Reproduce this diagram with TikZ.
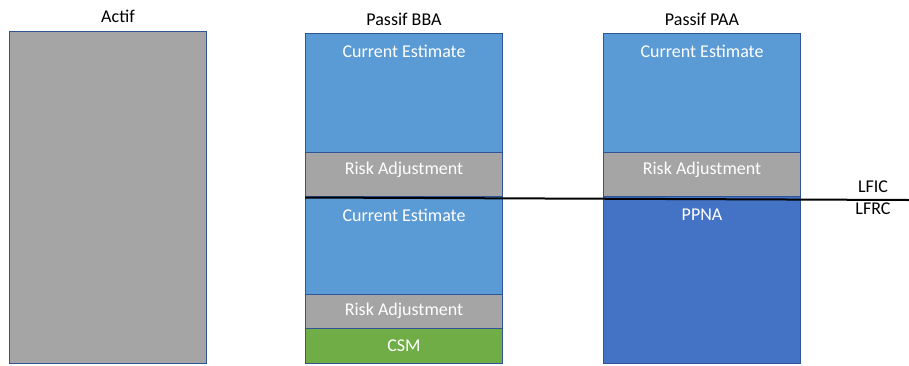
\documentclass[tikz,border=0pt]{standalone}
\usepackage{fontspec}
\setmainfont{Carlito}
\definecolor{ceblue}{HTML}{5B9BD5}
\definecolor{ragray}{HTML}{A5A5A5}
\definecolor{csmgreen}{HTML}{70AD47}
\definecolor{ppnablue}{HTML}{4472C4}
\definecolor{edge}{HTML}{2F5597}
\begin{document}
\begin{tikzpicture}[x=1pt,y=-1pt,
  seg/.style={draw=edge,line width=1pt},
  wlab/.style={text=white,font=\fontsize{18}{21}\selectfont,inner sep=0pt},
  blab/.style={text=black,font=\fontsize{18}{21}\selectfont,inner sep=0pt}]
\useasboundingbox (0,0) rectangle (909,365);
% Actif
\fill[ragray,draw=edge,line width=1pt] (9,31) rectangle (206,363);
\node[blab] (actif) at (118,16) {Actif};
% Passif BBA
\node[blab] (bba) at (404,19) {Passif BBA};
\filldraw[seg,fill=ceblue] (305,33) rectangle (502,152);
\filldraw[seg,fill=ragray] (305,152) rectangle (502,196);
\filldraw[seg,fill=ceblue] (305,196) rectangle (502,294);
\filldraw[seg,fill=ragray] (305,294) rectangle (502,328);
\filldraw[seg,fill=csmgreen] (305,328) rectangle (502,363);
\node[wlab] (ce1) at (404,51) {Current Estimate};
\node[wlab] (ra1) at (404,170) {Risk Adjustment};
\node[wlab] (ce2) at (404,215) {Current Estimate};
\node[wlab] (ra2) at (404,311) {Risk Adjustment};
\node[wlab] (csm) at (404,346) {CSM};
% Passif PAA
\node[blab] (paa) at (702,19) {Passif PAA};
\filldraw[seg,fill=ceblue] (603,33) rectangle (800,152);
\filldraw[seg,fill=ragray] (603,152) rectangle (800,196);
\filldraw[seg,fill=ppnablue] (603,196) rectangle (800,363);
\node[wlab] (ce3) at (702,51) {Current Estimate};
\node[wlab] (ra3) at (702,170) {Risk Adjustment};
\node[wlab] (ppna) at (702,215) {PPNA};
% separator line
\coordinate (l1) at (305,197.5);
\coordinate (l2) at (909,200);
\draw[black,line width=2pt] (l1) -- (l2);
\node[blab] (lfic) at (873,187) {LFIC};
\node[blab] (lfrc) at (873,209) {LFRC};
\end{tikzpicture}
\end{document}
